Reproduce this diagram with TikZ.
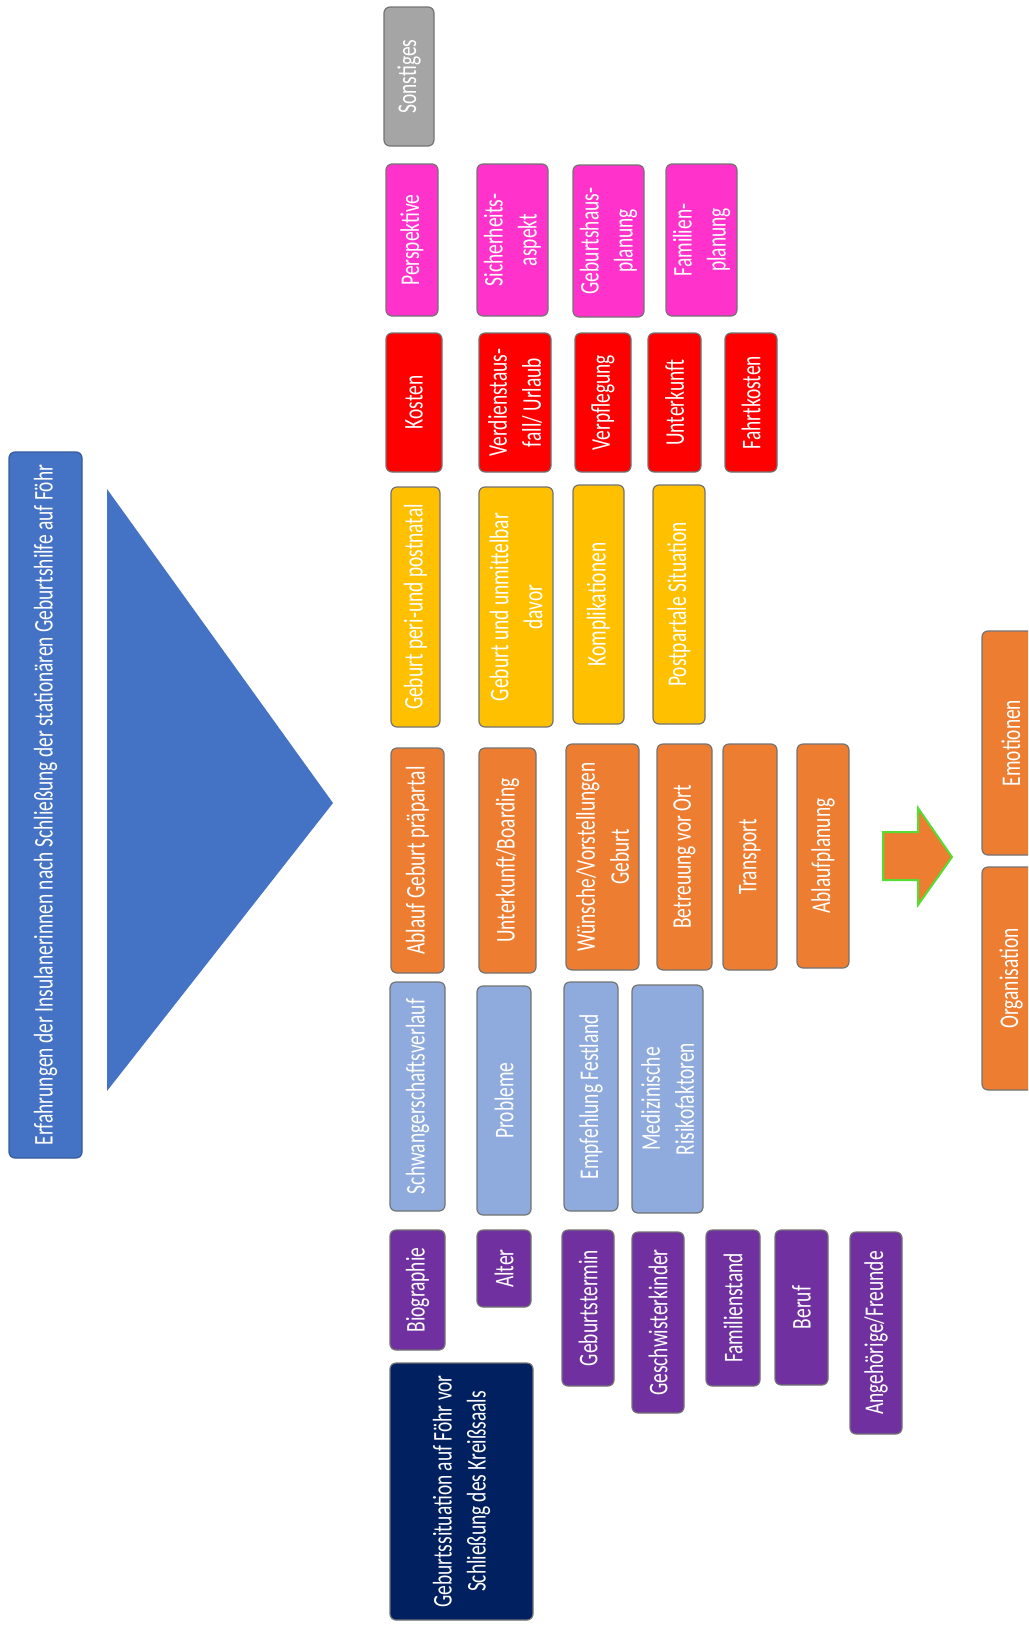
\documentclass[tikz,border=0pt]{standalone}
\usepackage{fontspec}
\setmainfont{Carlito}[FakeStretch=0.72]
\definecolor{blau}{HTML}{4472C4}
\definecolor{hellblau}{HTML}{8FAADC}
\definecolor{orange}{HTML}{ED7D31}
\definecolor{gelb}{HTML}{FFC000}
\definecolor{rot}{HTML}{FF0000}
\definecolor{pink}{HTML}{FF33CC}
\definecolor{grau}{HTML}{A5A5A5}
\definecolor{lila}{HTML}{7030A0}
\definecolor{navy}{HTML}{002060}
\definecolor{gruen}{HTML}{55DD33}

\begin{document}
\begin{tikzpicture}[
		x=1pt, y=-1pt,
		kat/.style={draw=black!55, line width=1.2pt, rounded corners=6pt,
				rotate=90, text=white, align=center, inner sep=0pt,
				font=\fontsize{27}{34}\selectfont},
		dims/.style 2 args={minimum height=#1pt, minimum width=#2pt}
	]
	\useasboundingbox (0,0) rectangle (1028,1630);
	\clip (0,0) rectangle (1028,1630);

	% Titel und Dreieck
	\node[kat, draw=blau!80!black, fill=blau, dims={73}{706}] (titel) at (45.5,805)
		{Erfahrungen der Insulanerinnen nach Schließung der stationären Geburtshilfe auf Föhr};
	\fill[blau] (107,489) -- (333,803) -- (107,1091) -- cycle;

	% Spalte 1
	\node[kat, fill=grau, dims={50}{139}] (sonstiges) at (409,76.5) {Sonstiges};
	\node[kat, fill=pink, dims={52}{152}] (perspektive) at (412,240) {Perspektive};
	\node[kat, fill=rot, dims={56}{139}] (kosten) at (414,402.5) {Kosten};
	\node[kat, fill=gelb, dims={49}{240}] (geburt) at (415.5,607) {Geburt peri-und postnatal};
	\node[kat, fill=orange, dims={53}{225}] (ablauf) at (417.5,860.5) {Ablauf Geburt präpartal};
	\node[kat, fill=hellblau, dims={55}{229}] (schwanger) at (417.5,1096.5) {Schwangerschaftsverlauf};
	\node[kat, fill=lila, dims={55}{120}] (biographie) at (417.5,1290) {Biographie};
	\node[kat, fill=navy, dims={143}{257}] (situation) at (461.5,1491.5)
		{Geburtssituation auf Föhr vor\\Schließung des Kreißsaals};

	% Spalte 2
	\node[kat, fill=pink, dims={71}{152}] (sicherheit) at (512.5,240) {Sicherheits-\\aspekt};
	\node[kat, fill=rot, dims={72}{139}] (verdienst) at (515,402.5) {Verdienstaus-\\fall/ Urlaub};
	\node[kat, fill=gelb, dims={74}{240}] (unmittelbar) at (516,607) {Geburt und unmittelbar\\davor};
	\node[kat, fill=orange, dims={57}{225}] (boarding) at (507.5,860.5) {Unterkunft/Boarding};
	\node[kat, fill=hellblau, dims={54}{229}] (probleme) at (504,1100.5) {Probleme};
	\node[kat, fill=lila, dims={54}{77}] (alter) at (504,1268.5) {Alter};

	% Spalte 3
	\node[kat, fill=pink, dims={71}{152}] (geburtshaus) at (608.5,241) {Geburtshaus-\\planung};
	\node[kat, fill=rot, dims={56}{139}] (verpflegung) at (603,402.5) {Verpflegung};
	\node[kat, fill=gelb, dims={51}{239}] (komplikationen) at (598.5,604.5) {Komplikationen};
	\node[kat, fill=orange, dims={73}{226}] (wuensche) at (602.5,857) {Wünsche/Vorstellungen\\Geburt};
	\node[kat, fill=hellblau, dims={54}{229}] (festland) at (591,1096.5) {Empfehlung Festland};
	\node[kat, fill=lila, dims={52}{156}] (termin) at (588,1308) {Geburtstermin};

	% Spalte 4
	\node[kat, fill=pink, dims={71}{152}] (familienplanung) at (701.5,240) {Familien-\\planung};
	\node[kat, fill=rot, dims={53}{139}] (unterkunft) at (674.5,402.5) {Unterkunft};
	\node[kat, fill=gelb, dims={52}{239}] (postpartal) at (679,604.5) {Postpartale Situation};
	\node[kat, fill=orange, dims={55}{226}] (betreuung) at (684.5,857) {Betreuung vor Ort};
	\node[kat, fill=hellblau, dims={71}{228}] (risiko) at (667.5,1099) {Medizinische\\Risikofaktoren};
	\node[kat, fill=lila, dims={52}{181}] (geschwister) at (658,1322.5) {Geschwisterkinder};

	% Spalte 5 bis 7
	\node[kat, fill=rot, dims={52}{139}] (fahrtkosten) at (751,402.5) {Fahrtkosten};
	\node[kat, fill=orange, dims={54}{226}] (transport) at (750,857) {Transport};
	\node[kat, fill=lila, dims={54}{156}] (familienstand) at (733,1308) {Familienstand};
	\node[kat, fill=orange, dims={52}{224}] (ablaufplanung) at (823,856) {Ablaufplanung};
	\node[kat, fill=lila, dims={53}{155}] (beruf) at (801.5,1307.5) {Beruf};
	\node[kat, fill=lila, dims={52}{202}] (angehoerige) at (876,1333) {Angehörige/Freunde};

	% Pfeil und Oberkategorien
	\draw[gruen, fill=orange, line width=2pt, line join=miter]
		(883,832) -- (918,832) -- (918,808) -- (952,857) -- (918,905) -- (918,880) -- (883,880) -- cycle;
	\node[kat, fill=orange, dims={58}{224}] (emotionen) at (1011,743) {Emotionen};
	\node[kat, fill=orange, dims={58}{223}] (organisation) at (1011,978.5) {Organisation};
\end{tikzpicture}
\end{document}
